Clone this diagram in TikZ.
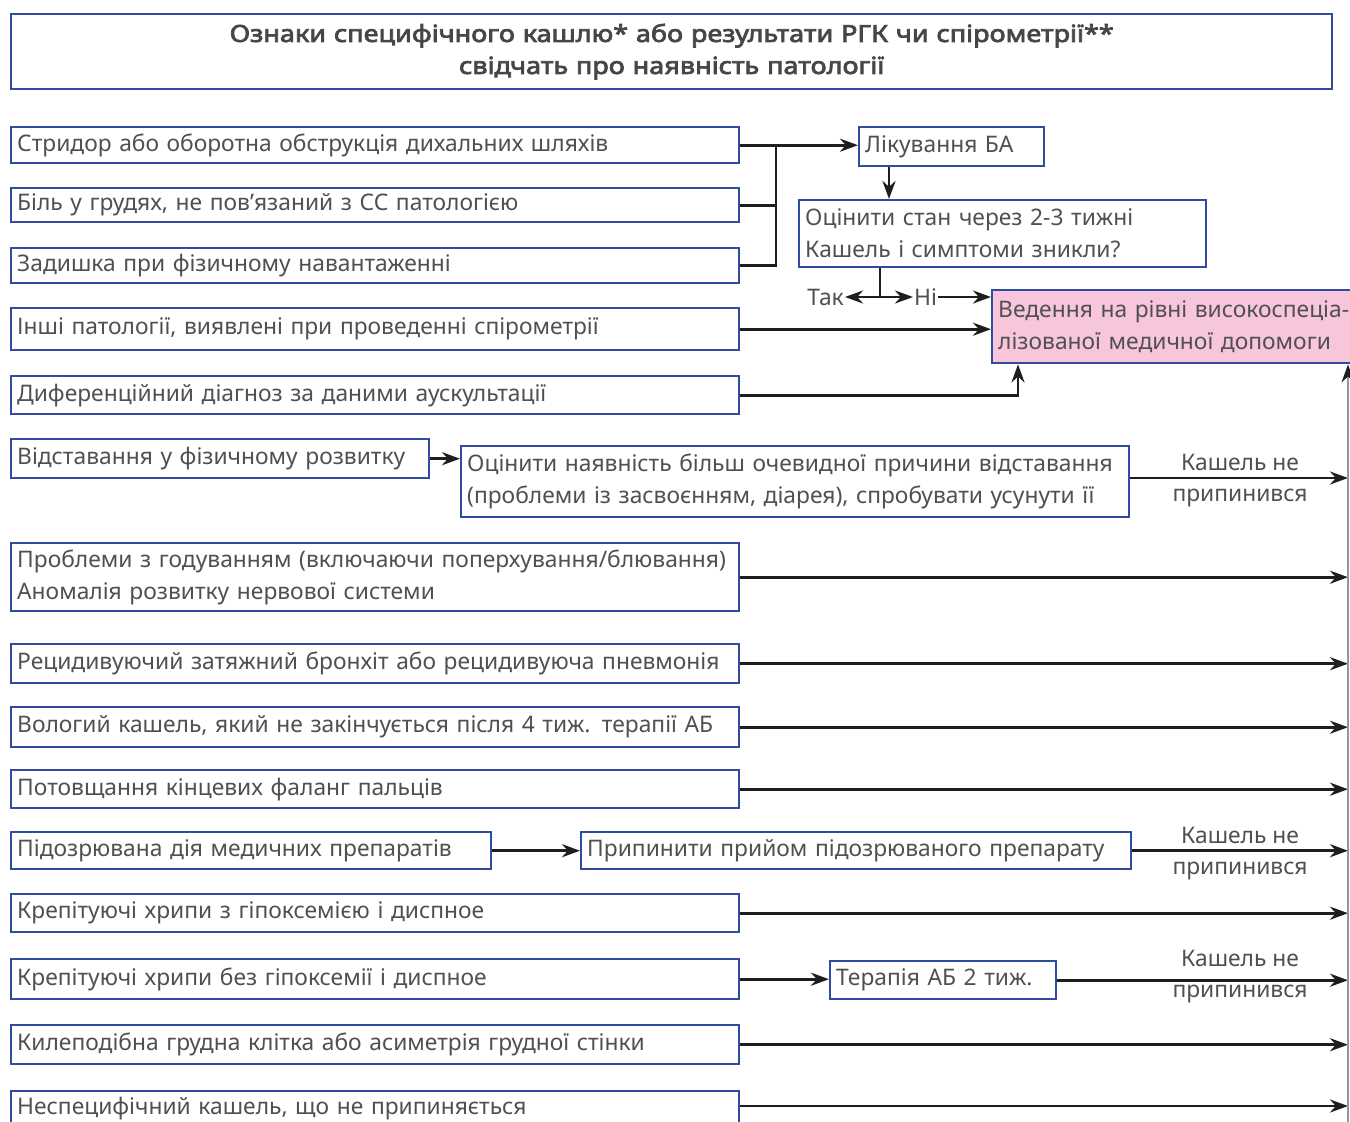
\documentclass[tikz,border=0pt]{standalone}
\usepackage{fontspec}
\setmainfont{Noto Sans}
\newfontfamily\tfont{Noto Sans}[FakeBold=3.2,FakeStretch=1.15]
\usetikzlibrary{arrows.meta,calc}
\definecolor{bblue}{RGB}{48,76,160}
\definecolor{tgray}{RGB}{80,80,80}
\definecolor{ttgray}{RGB}{70,70,70}
\definecolor{pinkf}{RGB}{248,198,218}
\definecolor{lgray}{RGB}{150,150,150}
\definecolor{lcol}{RGB}{30,30,30}
\tikzset{
 boxst/.style={draw=bblue,line width=2.4pt,inner xsep=6pt,inner ysep=0pt,align=left,text=tgray,font=\fontsize{22.8}{32}\selectfont},
 conn/.style={draw=lcol,line width=2.8pt,-{Stealth[length=18pt,width=13pt]}},
 plainln/.style={draw=lcol,line width=2.8pt},
 railst/.style={draw=lgray,line width=1.5pt,-{Stealth[length=18pt,width=13pt,color=lcol]}},
 lab/.style={text=tgray,font=\fontsize{22.8}{32}\selectfont,align=center,inner sep=1pt},
}
\newcommand\bx[7][]{%
 \pgfmathsetmacro\bw{#5-#3}\pgfmathsetmacro\bh{#6-#4}\pgfmathsetmacro\tw{#5-#3-12}%
 \node[boxst,minimum width=\bw pt,minimum height=\bh pt,text width=\tw pt,anchor=north west,#1] (#2) at (#3,#4) {#7};}
\begin{document}
\begin{tikzpicture}[x=1pt,y=-1pt]
\clip (0,0) rectangle (1350,1122);
\fill[white] (0,0) rectangle (1350,1122);
% title
\bx[align=center,text=ttgray,font=\fontsize{23.5}{32}\tfont]{title}{10}{13}{1331}{88}{Ознаки специфічного кашлю* або результати РГК чи спірометрії**\\свідчать про наявність патології}
% left boxes
\bx{b1}{10}{126}{738}{162}{Стридор або оборотна обструкція дихальних шляхів}
\bx{b2}{10}{187}{738}{221}{Біль у грудях, не пов’язаний з СС патологією}
\bx{b3}{10}{247}{738}{282}{Задишка при фізичному навантаженні}
\bx{b4}{10}{307}{738}{349}{Інші патології, виявлені при проведенні спірометрії}
\bx{b5}{10}{375}{738}{413}{Диференційний діагноз за даними аускультації}
\bx{b6}{10}{438}{428}{477}{Відставання у фізичному розвитку}
\bx{b7}{10}{542}{738}{610}{Проблеми з годуванням (включаючи поперхування/блювання)\\Аномалія розвитку нервової системи}
\bx{b8}{10}{643}{738}{682}{Рецидивуючий затяжний бронхіт або рецидивуюча пневмонія}
\bx{b9}{10}{706}{738}{746}{Вологий кашель, який не закінчується після 4 тиж. терапії АБ}
\bx{b10}{10}{769}{738}{807}{Потовщання кінцевих фаланг пальців}
\bx{b11}{10}{831}{490}{868}{Підозрювана дія медичних препаратів}
\bx{b12}{10}{893}{738}{931}{Крепітуючі хрипи з гіпоксемією і диспное}
\bx{b13}{10}{958}{738}{998}{Крепітуючі хрипи без гіпоксемії і диспное}
\bx{b14}{10}{1024}{738}{1063}{Килеподібна грудна клітка або асиметрія грудної стінки}
\bx{b15}{10}{1090}{738}{1124}{Неспецифічний кашель, що не припиняється}
% right boxes
\bx{r1}{858}{126}{1043}{165}{Лікування БА}
\bx{r2}{798}{199}{1205}{266}{Оцінити стан через 2-3 тижні\\Кашель і симптоми зникли?}
\bx[fill=pinkf]{pink}{991}{289}{1358}{362}{Ведення на рівні високоспеціа-\\лізованої медичної допомоги}
\bx{r3}{460}{445}{1128}{516}{Оцінити наявність більш очевидної причини відставання\\(проблеми із засвоєнням, діарея), спробувати усунути її}
\bx{r4}{580}{831}{1130}{868}{Припинити прийом підозрюваного препарату}
\bx{r5}{829}{960}{1055}{998}{Терапія АБ 2 тиж.}
% helper coordinates
\coordinate (bus) at (776,0);
\coordinate (tb) at (889,0);
\coordinate (split) at (880,297);
\coordinate (p5) at (1018,0);
\coordinate (rail) at (1348,1122);
\coordinate (y3) at (0,478);
\coordinate (y15) at (0,1106);
\node[lab,anchor=east] (tak) at (845,297) {Так};
\node[lab,anchor=west] (ni) at (913,297) {Ні};
% connectors
\draw[conn] (b1.east) -- (b1.east -| r1.west);
\draw[plainln] (b2.east) -- (b2.east -| bus);
\draw[plainln] (b3.east) -- (b3.east -| bus) -- (b1.east -| bus);
\draw[conn] (r1.south -| tb) -- (r2.north -| tb);
\draw[plainln] (r2.south -| split) -- (split);
\draw[conn] (split) -- (tak.east);
\draw[conn] (split) -- (ni.west);
\draw[conn] (ni.east) -- (ni.east -| pink.west);
\draw[conn] (b4.east) -- (b4.east -| pink.west);
\draw[conn] (b5.east) -| (p5 |- pink.south);
\draw[conn] (b6.east) -- (b6.east -| r3.west);
\draw[conn] (r3.east |- y3) -- (rail |- y3);
\node[lab,anchor=base] (l1a) at (1240,470) {Кашель не};
\node[lab,anchor=base] (l1b) at (1240,501) {припинився};
\draw[conn] (b7.east) -- (b7.east -| rail);
\draw[conn] (b8.east) -- (b8.east -| rail);
\draw[conn] (b9.east) -- (b9.east -| rail);
\draw[conn] (b10.east) -- (b10.east -| rail);
\draw[conn] (b11.east) -- (b11.east -| r4.west);
\draw[conn] (r4.east) -- (r4.east -| rail);
\node[lab,anchor=base] (l2a) at (1240,843) {Кашель не};
\node[lab,anchor=base] (l2b) at (1240,874) {припинився};
\draw[conn] (b12.east) -- (b12.east -| rail);
\draw[conn] (b13.east) -- (b13.east -| r5.west);
\draw[conn] (r5.east) -- (r5.east -| rail);
\node[lab,anchor=base] (l3a) at (1240,966) {Кашель не};
\node[lab,anchor=base] (l3b) at (1240,997) {припинився};
\draw[conn] (b14.east) -- (b14.east -| rail);
\draw[conn] (b15.east |- y15) -- (rail |- y15);
\draw[railst] (rail) -- (rail |- pink.south);
\end{tikzpicture}
\end{document}
